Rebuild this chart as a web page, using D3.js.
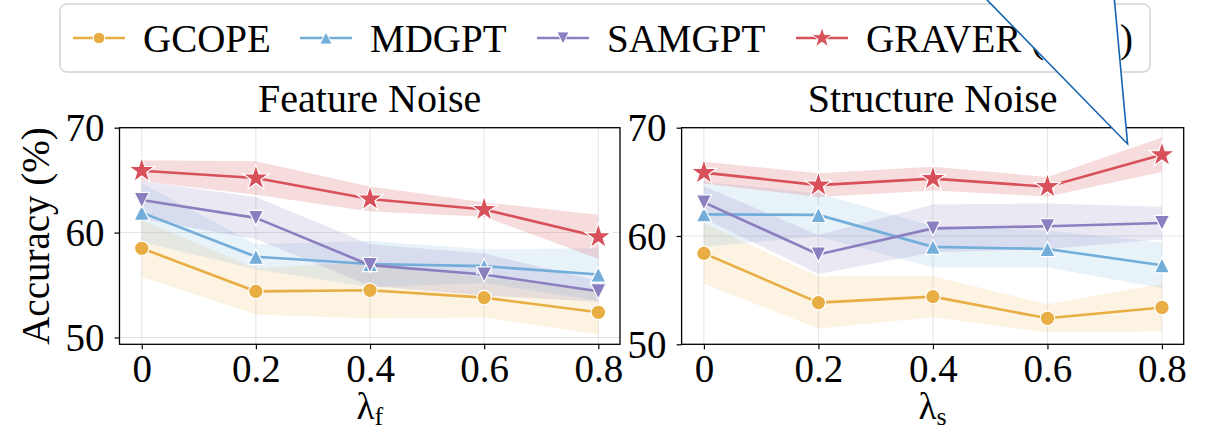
<!DOCTYPE html>
<html>
<head>
<meta charset="utf-8">
<script src="https://cdn.jsdelivr.net/npm/d3@7"></script>
</head>
<body style="margin:0">
<svg id="chart" width="1209" height="432"></svg>
<script>
// ── Data ──────────────────────────────────────────────────────────────────
const lambdas  = [0, 0.2, 0.4, 0.6, 0.8];
const xTicks   = [0, 0.2, 0.4, 0.6, 0.8];
const yTicks   = [50, 60, 70];
const methods  = ['GCOPE', 'MDGPT', 'SAMGPT', 'GRAVER (Ours)'];

// Feature noise: mean / std
const gcopeFeat     = [58.5, 54.4, 54.5, 53.8, 52.4];
const gcopeFeatStd  = [2.7, 2.2, 2.7, 1.9, 2.1];
const mdgptFeat     = [61.9, 57.7, 57.0, 56.8, 56.0];
const mdgptFeatStd  = [2.8, 1.2, 2.2, 1.6, 2.5];
const samgptFeat    = [63.1, 61.4, 56.9, 56.0, 54.4];
const samgptFeatStd = [1.8, 2.0, 2.0, 2.0, 1.0];
const graverFeat    = [65.9, 65.2, 63.2, 62.2, 59.6];
const graverFeatStd = [1.0, 1.6, 1.2, 0.7, 2.1];

// Structure noise: mean / std
const gcopeStruct     = [58.4, 53.85, 54.4, 52.4, 53.4];
const gcopeStructStd  = [2.8, 2.4, 1.9, 1.3, 2.2];
const mdgptStruct     = [62.0, 61.95, 59.0, 58.8, 57.3];
const mdgptStructStd  = [3.0, 2.0, 1.9, 1.7, 2.1];
const samgptStruct    = [63.1, 58.3, 60.7, 60.9, 61.2];
const samgptStructStd = [1.5, 1.8, 2.2, 2.1, 1.5];
const graverStruct    = [65.85, 64.7, 65.3, 64.55, 67.5];
const graverStructStd = [1.0, 1.1, 1.1, 0.9, 1.6];

// callout tip, in structure-panel data coordinates
const calloutTip = { x: 0.74, y: 68.5 };

// ── Style ─────────────────────────────────────────────────────────────────
const FONT    = '"Liberation Serif"';
const colors  = ['#E8AE43', '#73AEDB', '#8B7FBF', '#D8515A'];
const bandOp  = [0.15, 0.16, 0.18, 0.2];
const symbols = ['circle', 'triUp', 'triDown', 'star'];

const svg = d3.select('#chart');

function markerPath(kind, k = 1) {
  if (kind === 'circle') return d3.symbol(d3.symbolCircle, 165 * k * k)();
  if (kind === 'star')   return d3.symbol(d3.symbolStar, 210 * k * k)();
  const s = 7.6 * k;
  if (kind === 'triUp')  return `M0,${-s}L${s},${s}L${-s},${s}Z`;
  return `M0,${s}L${s},${-s}L${-s},${-s}Z`;
}

function buildSeries(means, stds) {
  return methods.map((name, i) => ({
    name, color: colors[i], symbol: symbols[i], op: bandOp[i],
    values: lambdas.map((x, j) => ({ x, m: means[i][j], s: stds[i][j] }))
  }));
}

const featSeries = buildSeries(
  [gcopeFeat, mdgptFeat, samgptFeat, graverFeat],
  [gcopeFeatStd, mdgptFeatStd, samgptFeatStd, graverFeatStd]);
const structSeries = buildSeries(
  [gcopeStruct, mdgptStruct, samgptStruct, graverStruct],
  [gcopeStructStd, mdgptStructStd, samgptStructStd, graverStructStd]);

// ── Panels ────────────────────────────────────────────────────────────────
const panels = [
  { title: 'Feature Noise',   sub: 'f', series: featSeries,
    x0: 119.5, x1: 620,    yDomain: [49.35, 70] },
  { title: 'Structure Noise', sub: 's', series: structSeries,
    x0: 681.6, x1: 1183.7, yDomain: [50, 70] },
];
const plotTop = 127.7, plotBottom = 344.3;

panels.forEach(p => {
  const x = d3.scaleLinear().domain([-0.039, 0.838]).range([p.x0, p.x1]);
  const y = d3.scaleLinear().domain(p.yDomain).range([plotBottom, plotTop]);
  p.x = x; p.y = y;
  const g = svg.append('g');

  // grid
  g.append('g').selectAll('line').data(xTicks).join('line')
    .attr('x1', d => x(d)).attr('x2', d => x(d))
    .attr('y1', plotTop).attr('y2', plotBottom)
    .attr('stroke', '#e4e4e4').attr('stroke-width', 1);
  g.append('g').selectAll('line').data(yTicks).join('line')
    .attr('x1', p.x0).attr('x2', p.x1)
    .attr('y1', d => y(d)).attr('y2', d => y(d))
    .attr('stroke', '#e4e4e4').attr('stroke-width', 1);

  // bands
  const area = d3.area().x(d => x(d.x)).y0(d => y(d.m - d.s)).y1(d => y(d.m + d.s));
  g.append('g').selectAll('path').data(p.series).join('path')
    .attr('d', d => area(d.values))
    .attr('fill', d => d.color)
    .attr('fill-opacity', d => d.op);

  // lines
  const line = d3.line().x(d => x(d.x)).y(d => y(d.m));
  g.append('g').selectAll('path').data(p.series).join('path')
    .attr('d', d => line(d.values))
    .attr('fill', 'none')
    .attr('stroke', d => d.color)
    .attr('stroke-width', 2.6);

  // markers
  p.series.forEach(s => {
    g.append('g').selectAll('path').data(s.values).join('path')
      .attr('transform', d => `translate(${x(d.x)},${y(d.m)})`)
      .attr('d', markerPath(s.symbol))
      .attr('fill', s.color)
      .attr('stroke', '#fff')
      .attr('stroke-width', 1.2);
  });

  // frame
  g.append('rect')
    .attr('x', p.x0).attr('y', plotTop)
    .attr('width', p.x1 - p.x0).attr('height', plotBottom - plotTop)
    .attr('fill', 'none').attr('stroke', '#000').attr('stroke-width', 1.3);

  // x axis
  const xAxis = d3.axisBottom(x).tickValues(xTicks).tickSize(5).tickPadding(5)
    .tickFormat(d => d === 0 ? '0' : String(d));
  const gx = g.append('g').attr('transform', `translate(0,${plotBottom})`).call(xAxis);
  gx.attr('font-family', null).attr('font-size', null);
  gx.select('.domain').remove();
  gx.selectAll('line').attr('stroke', '#000').attr('stroke-width', 1.2);
  gx.selectAll('text').attr('dy', '0.72em').attr('fill', '#000')
    .attr('font-family', FONT).attr('font-size', 39);

  // y axis
  const yAxis = d3.axisLeft(y).tickValues(yTicks).tickSize(5).tickPadding(10);
  const gy = g.append('g').attr('transform', `translate(${p.x0},0)`).call(yAxis);
  gy.attr('font-family', null).attr('font-size', null);
  gy.select('.domain').remove();
  gy.selectAll('line').attr('stroke', '#000').attr('stroke-width', 1.2);
  gy.selectAll('text').attr('dy', '0.34em').attr('fill', '#000')
    .attr('font-family', FONT).attr('font-size', 39);

  // title
  const cx = (p.x0 + p.x1) / 2;
  g.append('text').attr('x', cx).attr('y', 112)
    .attr('font-family', FONT)
    .attr('text-anchor', 'middle').attr('font-size', 40).text(p.title);

  // x label: lambda with subscript
  const xl = g.append('text').attr('x', cx).attr('y', 419)
    .attr('font-family', FONT)
    .attr('text-anchor', 'middle').attr('font-size', 37);
  xl.append('tspan').attr('font-family', FONT).text('λ');
  xl.append('tspan').attr('font-family', FONT)
    .attr('font-size', 26).attr('dy', 6).text(p.sub);
});

// y label
svg.append('text')
  .attr('transform', `translate(49,${(plotTop + plotBottom) / 2}) rotate(-90)`)
  .attr('font-family', FONT)
  .attr('text-anchor', 'middle').attr('font-size', 39)
  .text('Accuracy (%)');

// ── Legend ────────────────────────────────────────────────────────────────
const legend = svg.append('g');
legend.append('rect')
  .attr('x', 60).attr('y', 4).attr('width', 1090).attr('height', 68)
  .attr('rx', 7).attr('fill', '#fff').attr('stroke', '#d4d4d4').attr('stroke-width', 1.5);

const legendX = [73, 300, 537, 796];
methods.forEach((name, i) => {
  const lg = legend.append('g').attr('transform', `translate(${legendX[i]},38)`);
  lg.append('line').attr('x1', 0).attr('x2', 52)
    .attr('stroke', colors[i]).attr('stroke-width', 2.6);
  lg.append('path').attr('transform', 'translate(26,0)')
    .attr('d', markerPath(symbols[i], 0.8))
    .attr('fill', colors[i]).attr('stroke', '#fff').attr('stroke-width', 1);
  lg.append('text').attr('x', 70).attr('y', 14)
    .attr('font-family', FONT).attr('font-size', 39).text(name);
});

// ── Callout triangle (overlay) ────────────────────────────────────────────
const sp = panels[1];
const tipX = sp.x(calloutTip.x), tipY = sp.y(calloutTip.y);
svg.append('path')
  .attr('d', `M${tipX - 160},-20L${tipX - 15},-20L${tipX},${tipY}Z`)
  .attr('fill', '#fff').attr('stroke', '#1462b0').attr('stroke-width', 1.6);
</script>
</body>
</html>
